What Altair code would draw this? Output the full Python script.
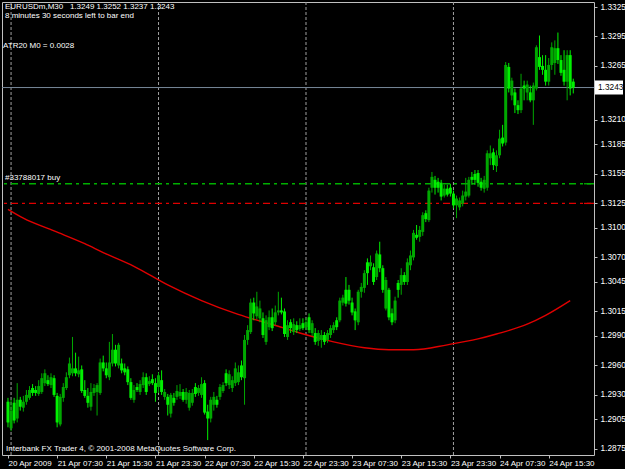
import altair as alt
import pandas as pd

PT = 0.0001  # prices below are in points (1 point = 0.0001)

open_pts = [12923,12896,12922,12906,12925,12917,12923,12927,12937,12935,
12931,12933,12942,12945,12940,12947,12929,12900,12927,12937,
12950,12952,12957,12951,12956,12935,12929,12918,12932,12933,
12932,12963,12957,12948,12962,12976,12960,12962,12957,12956,
12943,12925,12938,12933,12940,12948,12941,12946,12942,12938,
12945,12928,12928,12911,12927,12928,12929,12933,12925,12917,
12922,12938,12932,12930,12942,12913,12906,12920,12925,12928,
12934,12952,12940,12937,12942,12943,12960,12947,12986,12994,
13024,13010,13008,13008,12984,12999,13009,13004,13014,13016,
13015,12989,13004,12994,13001,12997,13003,12999,13009,12993,
12993,12985,12986,12991,12986,12991,12996,13006,13006,13024,
13037,13037,13024,13015,13004,13035,13039,13065,13061,13060,
13050,13073,13059,13018,13037,13013,13006,13044,13042,13052,
13045,13062,13070,13093,13091,13096,13115,13108,13141,13149,
13147,13146,13133,13140,13141,13135,13123,13121,13125,13132,
13133,13152,13155,13156,13147,13140,13141,13171,13177,13163,
13174,13192,13187,13264,13235,13238,13225,13220,13245,13238,
13238,13230,13242,13274,13265,13261,13249,13266,13268,13283,
13271,13261,13249,13276,13249]

high_pts = [12927,12925,12927,12942,12928,12929,12935,12939,12941,12939,
12945,12952,12956,12950,12952,12950,12932,12931,12942,12953,
12968,12989,12973,12969,12960,12945,12937,12942,12941,12942,
12967,12970,12963,12984,12992,12981,12983,12967,12962,12959,
12947,12940,12942,12945,12953,12952,12949,12951,12947,12953,
12955,12936,12931,12932,12932,12940,12941,12936,12937,12935,
12936,12942,12940,12948,12945,12920,12928,12933,12929,12941,
12943,12956,12955,12949,12963,12960,12965,12991,13001,13028,
13029,13035,13026,13014,13011,13016,13018,13021,13035,13029,
13018,13006,13007,13008,13005,13008,13008,13008,13013,13006,
12998,12996,12996,12994,12996,13001,13004,13009,13029,13032,
13050,13042,13029,13018,13037,13044,13057,13069,13072,13064,
13077,13086,13062,13050,13039,13018,13030,13047,13059,13055,
13069,13077,13098,13103,13102,13116,13118,13141,13157,13153,
13151,13149,13144,13144,13145,13138,13133,13131,13138,13151,
13152,13157,13159,13159,13151,13153,13179,13184,13181,13179,
13200,13205,13269,13268,13253,13242,13230,13257,13250,13250,
13245,13248,13286,13296,13276,13276,13273,13289,13291,13299,
13276,13281,13281,13281,13252]

low_pts = [12897,12893,12901,12902,12914,12913,12920,12925,12929,12929,
12929,12931,12939,12939,12937,12928,12897,12898,12923,12935,
12947,12949,12949,12948,12932,12927,12917,12914,12929,12909,
12930,12954,12947,12945,12959,12959,12957,12952,12950,12940,
12925,12922,12933,12930,12937,12930,12939,12940,12923,12932,
12930,12925,12909,12907,12919,12925,12926,12923,12921,12914,
12919,12928,12929,12927,12910,12884,12902,12914,12917,12925,
12932,12939,12936,12933,12939,12940,12945,12920,12981,12992,
13006,13007,13004,12988,12981,12996,12995,13001,13011,13012,
12989,12986,12993,12991,12993,12995,12996,12996,12993,12990,
12981,12980,12978,12981,12983,12988,12993,12996,13004,13021,
13020,13022,13011,12996,13001,13029,13034,13042,13057,13042,
13047,13055,13034,13016,13006,13001,13003,13029,13032,13042,
13042,13057,13067,13088,13086,13092,13106,13106,13136,13134,
13136,13128,13131,13132,13132,13120,13110,13118,13122,13128,
13131,13144,13144,13142,13138,13136,13138,13164,13159,13157,
13171,13183,13184,13238,13230,13217,13216,13217,13230,13230,
13228,13205,13240,13261,13256,13245,13245,13261,13256,13267,
13255,13245,13230,13235,13237]

close_pts = [12902,12914,12904,12925,12918,12923,12930,12935,12932,12932,
12939,12947,12952,12941,12948,12930,12902,12928,12938,12948,
12962,12957,12952,12955,12934,12929,12922,12933,12937,12940,
12963,12957,12950,12963,12976,12962,12981,12955,12953,12943,
12927,12935,12935,12941,12948,12933,12944,12942,12932,12950,
12933,12933,12920,12930,12922,12934,12933,12925,12933,12932,
12932,12931,12937,12941,12912,12906,12925,12928,12920,12938,
12940,12942,12951,12945,12957,12953,12948,12986,12996,13024,
13013,13020,13018,12991,13006,13009,12998,13014,13016,13014,
12992,13001,12998,13002,12996,13001,12998,13004,12996,13003,
12984,12993,12991,12984,12993,12998,13001,12999,13026,13029,
13023,13026,13014,13006,13035,13040,13054,13054,13065,13045,
13074,13059,13037,13047,13009,13004,13026,13037,13052,13045,
13065,13072,13095,13090,13098,13113,13109,13138,13152,13141,
13141,13132,13140,13134,13135,13123,13130,13128,13133,13137,
13149,13149,13149,13146,13141,13149,13176,13176,13164,13174,
13191,13186,13266,13242,13250,13225,13220,13242,13242,13246,
13230,13245,13284,13264,13261,13249,13266,13284,13283,13271,
13258,13249,13276,13242,13243]

# moving average (red curve), sampled bars
ma_idx = [0, 5, 15, 25, 31, 41, 52, 63, 74, 79, 90, 95, 106, 116, 124, 132, 143, 153, 159, 169, 175, 183]
ma_val = [1.3119, 1.3110, 1.3097, 1.3084, 1.3075, 1.3061, 1.3042, 1.3026, 1.3013, 1.3008, 1.2998,
          1.2993, 1.2984, 1.2978, 1.2976, 1.2976, 1.2981, 1.2987, 1.2992, 1.3002, 1.3011, 1.3026]

x_tick_idx = [0, 16, 32, 48, 64, 80, 96, 112, 128, 144, 160, 176]
x_tick_labels = ["20 Apr 2009", "21 Apr 07:30", "21 Apr 15:30", "21 Apr 23:30", "22 Apr 07:30",
                 "22 Apr 15:30", "22 Apr 23:30", "23 Apr 07:30", "23 Apr 15:30", "23 Apr 23:30",
                 "24 Apr 07:30", "24 Apr 15:30"]
grid_idx = [1, 49, 97, 145]
y_tick_values = [1.3325, 1.3295, 1.3265, 1.3210, 1.3185, 1.3155, 1.3125, 1.3100,
                 1.3070, 1.3045, 1.3015, 1.2990, 1.2960, 1.2930, 1.2905, 1.2875]

bid_price = 1.3243
order_price = 1.3145
stop_price = 1.3125

title_line1 = "EURUSDm,M30\u00a0\u00a0 1.3249 1.3252 1.3237 1.3243"
title_line2 = "8 minutes 30 seconds left to bar end"
atr_text = "ATR20 M0 = 0.0028"
order_text = "#33788017 buy"
footer_text = "Interbank FX Trader 4, \u00a9 2001-2008 MetaQuotes Software Corp."

FONT = "Liberation Sans"

n = len(open_pts)
df = pd.DataFrame({
    "idx": list(range(n)),
    "open": [v * PT for v in open_pts],
    "high": [v * PT for v in high_pts],
    "low": [v * PT for v in low_pts],
    "close": [v * PT for v in close_pts],
})
df["dir"] = ["bull" if c >= o else "bear" for o, c in zip(df["open"], df["close"])]

xs = alt.Scale(domain=[-0.32, 189.12], nice=False, zero=False)
ys = alt.Scale(domain=[1.28688, 1.33301], nice=False, zero=False)

mapping = "{" + ",".join(f"'{k}':'{v}'" for k, v in zip(x_tick_idx, x_tick_labels)) + "}"
xaxis = alt.Axis(values=x_tick_idx, labelExpr=f"{mapping}['' + datum.value]", orient="bottom",
                 grid=False, domain=False, tickSize=3, tickColor="#c0c0c0", labelAlign="left",
                 labelBaseline="top", labelPadding=1, labelColor="#ffffff",
                 labelFont=FONT, labelFontSize=8, labelOverlap=False, labelFlush=False, title=None)
yaxis = alt.Axis(values=y_tick_values, format=".4f", orient="right", grid=False, domain=False,
                 tickSize=3, tickColor="#c0c0c0", labelColor="#ffffff", labelFont=FONT,
                 labelFontSize=8.3, labelPadding=3, labelAlign="left", labelBaseline="middle",
                 labelOverlap=False, labelFlush=False, title=None)


def X(f):
    return alt.X(f, type="quantitative", scale=xs, axis=xaxis, title=None)


def Y(f):
    return alt.Y(f, type="quantitative", scale=ys, axis=yaxis, title=None)


base = alt.Chart(df)

grid = alt.Chart(pd.DataFrame({"g": grid_idx})).mark_rule(
    color="#a0a0a0", strokeDash=[3, 2], strokeWidth=1).encode(x=X("g"))

wicks = base.mark_rule(strokeWidth=1, clip=True).encode(
    x=X("idx"), y=Y("low"), y2="high",
    color=alt.Color("dir:N", scale=alt.Scale(domain=["bull", "bear"], range=["#00a800", "#00f000"]), legend=None))

bodies = base.mark_bar(size=3, clip=True).encode(
    x=X("idx"), y=Y("open"), y2="close",
    color=alt.Color("dir:N", scale=alt.Scale(domain=["bull", "bear"], range=["#00c000", "#00ff00"]), legend=None))

inner = base.mark_rule(strokeWidth=1, clip=True).encode(
    x=X("idx"), y=Y("open"), y2="close",
    color=alt.Color("dir:N", scale=alt.Scale(domain=["bull", "bear"], range=["#006e00", "#c8ffc8"]), legend=None))

ma = alt.Chart(pd.DataFrame({"i": ma_idx, "v": ma_val})).mark_line(
    color="#e00000", strokeWidth=1.4, interpolate="monotone", clip=True).encode(x=X("i"), y=Y("v"))

order_line = alt.Chart(pd.DataFrame({"p": [order_price]})).mark_rule(
    color="#00b000", strokeDash=[7, 4, 3, 4], strokeWidth=1.3).encode(y=Y("p"))
stop_line = alt.Chart(pd.DataFrame({"p": [stop_price]})).mark_rule(
    color="#e00000", strokeDash=[7, 4, 3, 4], strokeWidth=1.3).encode(y=Y("p"))
order_mark = alt.Chart(pd.DataFrame({"p": [order_price]})).mark_rule(
    color="#00b000", strokeWidth=1.3).encode(y=Y("p"), x=alt.value(582), x2=alt.value(589))
stop_mark = alt.Chart(pd.DataFrame({"p": [stop_price]})).mark_rule(
    color="#e00000", strokeWidth=1.3).encode(y=Y("p"), x=alt.value(582), x2=alt.value(589))

bid_df = pd.DataFrame({"p": [bid_price], "t": [f"{bid_price:.4f}"]})
bid_line = alt.Chart(bid_df).mark_rule(color="#778899", strokeWidth=1).encode(y=Y("p"))
bid_box = alt.Chart(bid_df).mark_point(
    shape="M-1,-0.46L1,-0.46L1,0.46L-1,0.46Z", filled=True, fill="#ffffff", stroke="#ffffff",
    opacity=1, size=676).encode(y=Y("p"), x=alt.value(607))
bid_text = alt.Chart(bid_df).mark_text(
    align="left", baseline="middle", color="#000000", font=FONT, fontSize=8.3).encode(
    y=Y("p"), x=alt.value(596), text="t:N")


def label(txt, x, y, **kw):
    return alt.Chart(pd.DataFrame({"t": [txt]})).mark_text(
        align="left", baseline="middle", color="#ffffff", font=FONT, fontSize=8, **kw).encode(
        x=alt.value(x), y=alt.value(y), text="t:N")


order_label = alt.Chart(pd.DataFrame({"p": [order_price], "t": [order_text]})).mark_text(
    align="left", baseline="middle", color="#ffffff", font=FONT, fontSize=8, dy=-6).encode(
    x=alt.value(3), y=Y("p"), text="t:N")

chart = alt.layer(
    grid, ma, order_line, stop_line, order_mark, stop_mark, bid_line,
    wicks, bodies, inner,
    bid_box, bid_text,
    label(title_line1, 3, 5), label(title_line2, 3, 13.5), label(atr_text, 1, 43.5),
    order_label, label(footer_text, 4, 447),
).properties(
    width=592, height=453,
    autosize=alt.AutoSizeParams(type="none"),
    padding={"left": 2, "top": 2, "right": 31, "bottom": 14},
    background="#000000",
).configure_view(stroke="#c0c0c0", strokeWidth=1)

chart.save("out.html", embed_options={"renderer": "svg", "actions": False})
